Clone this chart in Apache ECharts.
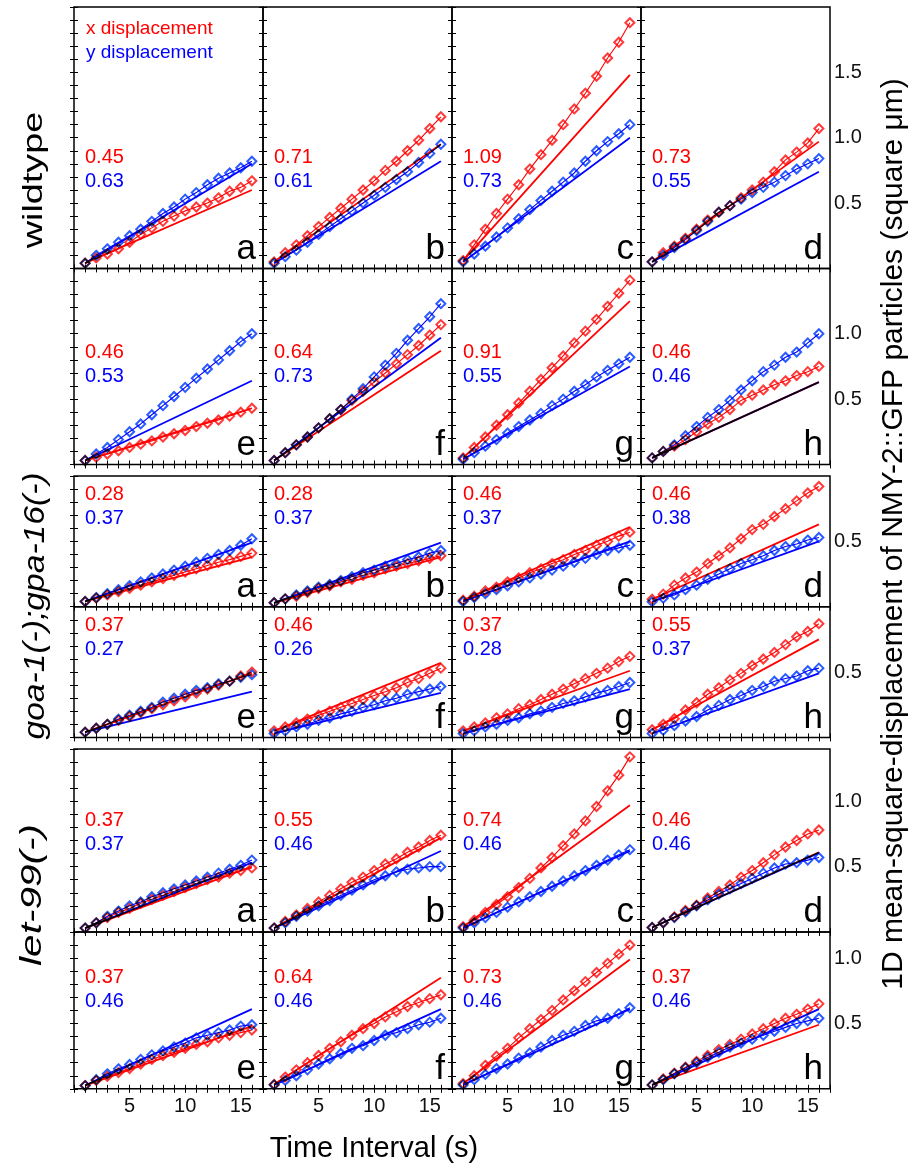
<!DOCTYPE html>
<html><head><meta charset="utf-8">
<script src="https://cdn.jsdelivr.net/npm/echarts@6/dist/echarts.min.js"></script>
<style>html,body{margin:0;padding:0;background:#fff}#c{width:923px;height:1167px}</style>
</head><body><div id="c"></div>
<script>
// ---------------- DATA ----------------
const time = [1,2,3,4,5,6,7,8,9,10,11,12,13,14,15,16];
const xTickLabels = [5, 10, 15];

// wildtype, top row (a-d)
const wt1X = [
  [0.04,0.08,0.11,0.15,0.20,0.26,0.31,0.36,0.40,0.44,0.47,0.50,0.54,0.59,0.62,0.67],
  [0.05,0.12,0.18,0.25,0.32,0.39,0.46,0.53,0.60,0.67,0.75,0.82,0.90,0.98,1.07,1.16],
  [0.06,0.18,0.30,0.42,0.53,0.64,0.76,0.87,0.98,1.10,1.22,1.34,1.47,1.61,1.73,1.88],
  [0.05,0.12,0.17,0.23,0.30,0.37,0.43,0.48,0.54,0.60,0.66,0.74,0.83,0.89,0.96,1.07]];
const wt1Y = [
  [0.04,0.10,0.15,0.20,0.25,0.30,0.36,0.42,0.47,0.53,0.58,0.64,0.69,0.73,0.77,0.82],
  [0.04,0.09,0.14,0.20,0.26,0.32,0.38,0.44,0.50,0.56,0.62,0.68,0.74,0.81,0.88,0.95],
  [0.05,0.11,0.17,0.24,0.31,0.38,0.45,0.52,0.59,0.66,0.73,0.82,0.90,0.97,1.03,1.10],
  [0.05,0.10,0.16,0.22,0.29,0.36,0.43,0.48,0.53,0.58,0.62,0.66,0.71,0.76,0.80,0.84]];
const wt1XFit = [[0.04,0.60],[0.05,0.95],[0.06,1.48],[0.05,0.97]];
const wt1YFit = [[0.04,0.80],[0.04,0.82],[0.05,1.00],[0.05,0.74]];
const wt1XText = ['0.45','0.71','1.09','0.73'];
const wt1YText = ['0.63','0.61','0.73','0.55'];

// wildtype, second row (e-h)
const wt2X = [
  [0.03,0.055,0.08,0.105,0.13,0.155,0.18,0.21,0.235,0.26,0.29,0.315,0.34,0.37,0.40,0.43],
  [0.03,0.09,0.15,0.21,0.28,0.35,0.42,0.49,0.56,0.63,0.70,0.77,0.84,0.91,0.99,1.07],
  [0.05,0.13,0.21,0.30,0.38,0.47,0.56,0.65,0.74,0.83,0.93,1.02,1.11,1.21,1.31,1.41],
  [0.05,0.10,0.14,0.19,0.25,0.31,0.36,0.42,0.49,0.53,0.57,0.61,0.64,0.68,0.71,0.75]];
const wt2Y = [
  [0.03,0.08,0.13,0.19,0.25,0.31,0.38,0.45,0.52,0.59,0.66,0.73,0.80,0.87,0.94,1.00],
  [0.03,0.09,0.15,0.21,0.28,0.35,0.42,0.50,0.58,0.67,0.76,0.85,0.95,1.04,1.13,1.23],
  [0.04,0.09,0.14,0.19,0.24,0.29,0.34,0.39,0.45,0.50,0.56,0.61,0.67,0.72,0.77,0.82],
  [0.05,0.10,0.15,0.22,0.29,0.36,0.42,0.49,0.57,0.64,0.71,0.76,0.82,0.86,0.93,1.00]];
const wt2XFit = [[0.03,0.43],[0.03,0.87],[0.05,1.25],[0.05,0.63]];
const wt2YFit = [[0.03,0.64],[0.03,0.97],[0.04,0.75],[0.05,0.63]];
const wt2XText = ['0.46','0.64','0.91','0.46'];
const wt2YText = ['0.53','0.73','0.55','0.46'];

// goa-1(-);gpa-16(-), top row (a-d)
const goa1X = [
  [0.04,0.065,0.09,0.115,0.14,0.165,0.19,0.215,0.24,0.265,0.29,0.315,0.34,0.36,0.385,0.41],
  [0.03,0.06,0.08,0.11,0.14,0.16,0.19,0.21,0.24,0.26,0.29,0.31,0.33,0.35,0.37,0.39],
  [0.05,0.08,0.12,0.15,0.19,0.22,0.26,0.29,0.33,0.36,0.40,0.43,0.47,0.50,0.54,0.57],
  [0.057,0.096,0.165,0.22,0.265,0.33,0.39,0.45,0.52,0.59,0.63,0.69,0.75,0.81,0.87,0.92]];
const goa1Y = [
  [0.04,0.07,0.10,0.13,0.16,0.19,0.22,0.25,0.28,0.31,0.34,0.37,0.40,0.43,0.47,0.52],
  [0.03,0.06,0.09,0.12,0.15,0.17,0.20,0.23,0.26,0.28,0.31,0.33,0.36,0.38,0.41,0.43],
  [0.04,0.07,0.10,0.13,0.16,0.19,0.22,0.25,0.28,0.31,0.34,0.37,0.40,0.43,0.45,0.47],
  [0.037,0.065,0.09,0.13,0.165,0.21,0.25,0.29,0.33,0.36,0.39,0.43,0.46,0.48,0.51,0.53]];
const goa1XFit = [[0.04,0.38],[0.03,0.38],[0.05,0.61],[0.057,0.63]];
const goa1YFit = [[0.04,0.49],[0.03,0.49],[0.04,0.50],[0.04,0.50]];
const goa1XText = ['0.28','0.28','0.46','0.46'];
const goa1YText = ['0.37','0.37','0.37','0.38'];

// goa-1(-);gpa-16(-), second row (e-h)
const goa2X = [
  [0.04,0.07,0.10,0.13,0.16,0.19,0.22,0.25,0.28,0.31,0.34,0.37,0.40,0.43,0.47,0.50],
  [0.05,0.08,0.11,0.14,0.17,0.20,0.23,0.26,0.29,0.32,0.35,0.38,0.42,0.45,0.49,0.53],
  [0.05,0.08,0.11,0.15,0.18,0.22,0.25,0.29,0.33,0.37,0.41,0.45,0.49,0.53,0.58,0.62],
  [0.059,0.10,0.143,0.21,0.265,0.33,0.38,0.44,0.49,0.55,0.60,0.65,0.71,0.77,0.81,0.87]];
const goa2Y = [
  [0.04,0.07,0.10,0.14,0.17,0.20,0.23,0.27,0.30,0.33,0.36,0.38,0.41,0.43,0.46,0.48],
  [0.03,0.05,0.08,0.10,0.13,0.15,0.18,0.20,0.23,0.25,0.28,0.30,0.33,0.35,0.37,0.39],
  [0.03,0.05,0.08,0.10,0.13,0.15,0.18,0.20,0.23,0.26,0.28,0.31,0.34,0.36,0.39,0.42],
  [0.03,0.054,0.09,0.125,0.16,0.21,0.245,0.29,0.32,0.36,0.39,0.43,0.45,0.47,0.51,0.53]];
const goa2XFit = [[0.04,0.49],[0.05,0.57],[0.05,0.51],[0.06,0.75]];
const goa2YFit = [[0.04,0.35],[0.03,0.34],[0.03,0.37],[0.03,0.49]];
const goa2XText = ['0.37','0.46','0.37','0.55'];
const goa2YText = ['0.27','0.26','0.28','0.37'];

// let-99(-), top row (a-d)
const let1X = [
  [0.03,0.07,0.11,0.15,0.18,0.22,0.25,0.28,0.31,0.34,0.37,0.40,0.42,0.45,0.47,0.49],
  [0.03,0.08,0.13,0.18,0.23,0.28,0.33,0.38,0.42,0.47,0.52,0.56,0.61,0.65,0.70,0.74],
  [0.04,0.09,0.15,0.21,0.27,0.34,0.41,0.49,0.57,0.66,0.75,0.85,0.96,1.08,1.20,1.34],
  [0.034,0.07,0.115,0.165,0.205,0.26,0.31,0.36,0.42,0.47,0.53,0.59,0.65,0.70,0.75,0.78]];
const let1Y = [
  [0.03,0.07,0.12,0.16,0.20,0.23,0.27,0.30,0.33,0.36,0.39,0.42,0.45,0.48,0.51,0.55],
  [0.03,0.07,0.12,0.16,0.20,0.24,0.28,0.32,0.36,0.40,0.43,0.46,0.48,0.49,0.50,0.50],
  [0.03,0.07,0.11,0.15,0.19,0.23,0.27,0.31,0.35,0.39,0.43,0.47,0.51,0.55,0.59,0.63],
  [0.034,0.07,0.11,0.155,0.20,0.245,0.29,0.33,0.37,0.41,0.45,0.49,0.52,0.53,0.55,0.57]];
const let1XFit = [[0.03,0.50],[0.03,0.72],[0.04,0.97],[0.034,0.61]];
const let1YFit = [[0.03,0.53],[0.03,0.62],[0.03,0.62],[0.034,0.605]];
const let1XText = ['0.37','0.55','0.74','0.46'];
const let1YText = ['0.37','0.46','0.46','0.46'];

// let-99(-), second row (e-h)
const let2X = [
  [0.025,0.064,0.095,0.125,0.155,0.19,0.225,0.255,0.28,0.31,0.34,0.36,0.39,0.41,0.43,0.45],
  [0.033,0.09,0.145,0.20,0.255,0.31,0.36,0.41,0.46,0.50,0.55,0.59,0.63,0.66,0.69,0.72],
  [0.04,0.10,0.18,0.25,0.31,0.39,0.46,0.53,0.60,0.68,0.75,0.82,0.89,0.96,1.03,1.10],
  [0.03,0.075,0.12,0.165,0.21,0.255,0.30,0.34,0.38,0.42,0.46,0.50,0.54,0.57,0.61,0.65]];
const let2Y = [
  [0.025,0.07,0.115,0.153,0.186,0.225,0.26,0.29,0.32,0.35,0.39,0.41,0.43,0.45,0.48,0.49],
  [0.03,0.064,0.10,0.145,0.19,0.23,0.27,0.31,0.33,0.37,0.41,0.43,0.46,0.49,0.51,0.54],
  [0.03,0.07,0.11,0.155,0.19,0.235,0.275,0.32,0.37,0.41,0.44,0.485,0.52,0.54,0.575,0.62],
  [0.03,0.07,0.115,0.16,0.20,0.24,0.28,0.32,0.35,0.38,0.41,0.44,0.47,0.50,0.52,0.54]];
const let2XFit = [[0.025,0.48],[0.035,0.85],[0.04,0.99],[0.03,0.49]];
const let2YFit = [[0.025,0.61],[0.03,0.61],[0.03,0.61],[0.03,0.61]];
const let2XText = ['0.37','0.64','0.73','0.37'];
const let2YText = ['0.46','0.46','0.46','0.46'];

const lettersTop = ['a','b','c','d'];
const lettersBottom = ['e','f','g','h'];
const rowYMax = [2.0, 1.5, 1.0, 1.0, 1.4, 1.2];
const groupLabels = ['wildtype', 'goa-1(-);gpa-16(-)', 'let-99(-)'];
const legendLabels = ['x displacement', 'y displacement'];
const yTitle = '1D mean-square-displacement of NMY-2::GFP particles (square \u03bcm)';
const xTitle = 'Time Interval (s)';

// ---------------- LAYOUT ----------------
const RED = '#ff0000', BLUE = '#0000ff';
const RED_M = '#ff3a3a', BLUE_M = '#2a5cff';
const FONT = '"Liberation Sans", Arial, sans-serif';
const colLeft = [74, 263, 452, 641], colW = 189;
const ppu = 130.7;
const xMax = 17;
const rowTopStart = [7, null, 476, null, 749, null];
const rowTop = [], rowH = [];
for (let r = 0; r < 6; r++) {
  rowH.push(rowYMax[r] * ppu);
  rowTop.push(rowTopStart[r] !== null ? rowTopStart[r] : rowTop[r-1] + rowH[r-1]);
}
const valueOffset = [160, 94.5, 28, 28.3, 81, 56];

const rows = [
  {X: wt1X, Y: wt1Y, XF: wt1XFit, YF: wt1YFit, XT: wt1XText, YT: wt1YText, L: lettersTop},
  {X: wt2X, Y: wt2Y, XF: wt2XFit, YF: wt2YFit, XT: wt2XText, YT: wt2YText, L: lettersBottom},
  {X: goa1X, Y: goa1Y, XF: goa1XFit, YF: goa1YFit, XT: goa1XText, YT: goa1YText, L: lettersTop},
  {X: goa2X, Y: goa2Y, XF: goa2XFit, YF: goa2YFit, XT: goa2XText, YT: goa2YText, L: lettersBottom},
  {X: let1X, Y: let1Y, XF: let1XFit, YF: let1YFit, XT: let1XText, YT: let1YText, L: lettersTop},
  {X: let2X, Y: let2Y, XF: let2XFit, YF: let2YFit, XT: let2XText, YT: let2YText, L: lettersBottom}
];

const grid = [], xAxis = [], yAxis = [], series = [], graphic = [];
const tick = {show: true, inside: true, length: 4, lineStyle: {color: '#000', width: 1}};
let k = 0;
rows.forEach((row, r) => {
  const ymax = rowYMax[r];
  for (let c = 0; c < 4; c++) {
    grid.push({left: colLeft[c], top: rowTop[r], width: colW, height: rowH[r],
      show: true, borderColor: '#000', borderWidth: 1.5, backgroundColor: 'transparent'});
    const baseX = {gridIndex: k, type: 'value', min: 0, max: xMax, interval: 1,
      axisLine: {show: false}, axisTick: tick, splitLine: {show: false}};
    xAxis.push(Object.assign({}, baseX, {position: 'bottom',
      axisLabel: {show: r === 5, margin: 8, color: '#111', fontSize: 20, fontFamily: FONT,
        formatter: v => xTickLabels.indexOf(Math.round(v)) >= 0 ? String(Math.round(v)) : ''}}));
    xAxis.push(Object.assign({}, baseX, {position: 'top', axisLabel: {show: false}}));
    const baseY = {gridIndex: k, type: 'value', min: 0, max: ymax, interval: 0.1,
      axisLine: {show: false}, axisTick: tick, splitLine: {show: false}};
    yAxis.push(Object.assign({}, baseY, {position: 'left', axisLabel: {show: false}}));
    yAxis.push(Object.assign({}, baseY, {position: 'right',
      axisLabel: {show: c === 3, margin: 4, color: '#111', fontSize: 20, fontFamily: FONT,
        formatter: v => { const t = Math.round(v * 10); return (t > 0 && t % 5 === 0 && v < ymax - 1e-6) ? (t / 10).toFixed(1) : ''; }}}));

    const common = {xAxisIndex: 2*k, yAxisIndex: 2*k, silent: true, animation: false, blendMode: 'multiply'};
    // fit lines
    [[row.XF[c], RED], [row.YF[c], BLUE]].forEach(([f, col]) => {
      series.push(Object.assign({type: 'line', data: [[time[0], f[0]], [time[time.length-1], f[1]]],
        showSymbol: false, symbol: 'none', lineStyle: {color: col, width: 1.8}, z: 2}, common));
    });
    // data lines
    [[row.X[c], RED, RED_M], [row.Y[c], BLUE, BLUE_M]].forEach(([d, col, mc]) => {
      series.push(Object.assign({type: 'line', data: time.map((t, i) => [t, d[i]]),
        symbol: 'emptyDiamond', symbolSize: 9, showAllSymbol: true,
        lineStyle: {color: col, width: 1.1}, itemStyle: {color: mc, borderWidth: 1}, z: 3}, common));
    });

    // panel texts
    const L = colLeft[c], T = rowTop[r], B = rowTop[r] + rowH[r];
    const vb = T + valueOffset[r];
    graphic.push({type: 'text', x: L + 11, y: vb, silent: true,
      style: {text: row.XT[c], fill: RED, font: '20px ' + FONT, textAlign: 'left', textVerticalAlign: 'bottom'}});
    graphic.push({type: 'text', x: L + 11, y: vb + 24, silent: true,
      style: {text: row.YT[c], fill: BLUE, font: '20px ' + FONT, textAlign: 'left', textVerticalAlign: 'bottom'}});
    graphic.push({type: 'text', x: L + colW - 7, y: B - 2, silent: true,
      style: {text: row.L[c], fill: '#000', font: '35px ' + FONT, textAlign: 'right', textVerticalAlign: 'bottom'}});
    k++;
  }
});

// legend text in first panel
graphic.push({type: 'text', x: 86, y: 38, silent: true,
  style: {text: legendLabels[0], fill: RED, font: '19px ' + FONT, textAlign: 'left', textVerticalAlign: 'bottom'}});
graphic.push({type: 'text', x: 86, y: 62, silent: true,
  style: {text: legendLabels[1], fill: BLUE, font: '19px ' + FONT, textAlign: 'left', textVerticalAlign: 'bottom'}});

// group labels (rotated)
const groupPos = [[34, 180, 28, 1.35], [36, 606, 30, 1.12], [33, 895, 30, 1.35]];
groupLabels.forEach((txt, i) => {
  const p = groupPos[i];
  graphic.push({type: 'text', x: p[0], y: p[1], rotation: Math.PI / 2, scaleX: p[3], silent: true,
    style: {text: txt, fill: '#000', font: (i > 0 ? 'italic ' : '') + p[2] + 'px ' + FONT,
      textAlign: 'center', textVerticalAlign: 'middle'}});
});
// axis titles
graphic.push({type: 'text', x: 894, y: 534, rotation: Math.PI / 2, silent: true,
  style: {text: yTitle, fill: '#000', font: '30px ' + FONT, textAlign: 'center', textVerticalAlign: 'middle'}});
graphic.push({type: 'text', x: 374, y: 1149, silent: true,
  style: {text: xTitle, fill: '#000', font: '29px ' + FONT, textAlign: 'center', textVerticalAlign: 'middle'}});

const chart = echarts.init(document.getElementById('c'), null, {renderer: 'canvas'});
chart.setOption({backgroundColor: '#ffffff', animation: false, grid, xAxis, yAxis, series, graphic});
</script></body></html>
